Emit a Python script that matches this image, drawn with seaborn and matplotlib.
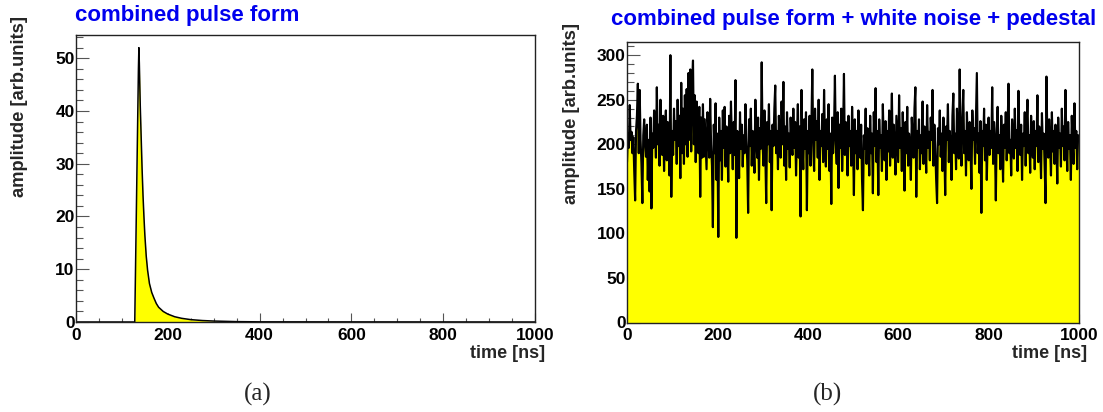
import numpy as np
import pandas as pd
import matplotlib
matplotlib.use("Agg")
import matplotlib.pyplot as plt
from matplotlib.ticker import MultipleLocator
import seaborn as sns

# ---------------- data ----------------
pulse_time = [0, 128, 129, 130, 131, 132, 133, 134, 135, 136, 137, 138, 139, 140,
              142, 144, 146, 148, 150, 153, 156, 160, 165, 170, 175, 180, 190,
              200, 215, 230, 250, 275, 300, 350, 400, 1000]
pulse_amp = [0, 0, 6, 12, 18, 24, 30, 36, 42, 48, 52, 49, 45, 41,
             35, 29, 24, 20, 16.5, 12.5, 9.8, 7.3, 5.6, 4.5, 3.5, 2.8, 2.0,
             1.5, 1.0, 0.7, 0.45, 0.28, 0.18, 0.07, 0.03, 0]

noise_step = 2  # ns between samples
noise_amp = [
    180, 212, 196, 244, 205, 214, 190, 208, 170, 137, 215, 232, 268, 190, 261, 205, 178, 134, 210, 228,
    200, 186, 222, 160, 205, 147, 230, 128, 212, 196, 238, 218, 185, 264, 200, 222, 176, 250, 210, 188,
    232, 170, 215, 238, 182, 225, 200, 165, 300, 141,
    215, 188, 240, 205, 226, 178, 250, 198, 232, 162, 269, 190, 240, 178, 255, 200, 262, 186, 280, 205,
    284, 192, 268, 294, 200, 255, 180, 248, 196, 190, 242, 141, 230, 185, 245, 186, 228, 200, 172, 236,
    214, 185, 251, 200, 176, 107, 222, 190, 246, 160,
    212, 96, 230, 182, 215, 160, 238, 196, 242, 175, 220, 200, 158, 232, 190, 248, 205, 172, 225, 188,
    272, 95, 215, 200, 162, 236, 195, 222, 175, 210, 190, 245, 205, 182, 123, 228, 198, 240, 176, 215,
    200, 168, 250, 208, 185, 230, 160, 218, 195, 292,
    200, 176, 238, 190, 134, 225, 200, 245, 180, 215, 126, 222, 198, 240, 266, 190, 215, 172, 232, 205,
    185, 248, 200, 270, 176, 220, 160, 236, 195, 212, 174, 230, 205, 188, 240, 196, 225, 165, 210, 245,
    185, 220, 119, 261, 200, 172, 228, 195, 236, 126,
    215, 190, 232, 176, 222, 284, 198, 170, 240, 205, 226, 185, 250, 160, 215, 198, 234, 180, 261, 205,
    175, 228, 195, 245, 170, 212, 133, 230, 190, 216, 277, 200, 178, 236, 151, 222, 196, 240, 170, 210,
    279, 188, 225, 200, 165, 232, 198, 215, 176, 242,
    205, 143, 228, 190, 215, 172, 238, 200, 185, 222, 160, 126, 210, 195, 240, 178, 218, 200, 165, 232,
    190, 212, 145, 236, 198, 263, 180, 215, 143, 228, 196, 210, 170, 245, 200, 182, 226, 160, 215, 192,
    238, 176, 210, 257, 185, 222, 198, 166, 232, 205,
    180, 255, 196, 218, 170, 236, 200, 148, 225, 190, 242, 176, 212, 198, 160, 230, 205, 185, 240, 264,
    141, 215, 196, 228, 172, 210, 190, 248, 178, 220, 200, 168, 244, 196, 214, 182, 230, 205, 261, 176,
    222, 195, 160, 134, 218, 200, 238, 186, 212, 170,
    230, 196, 143, 220, 205, 245, 180, 215, 198, 160, 232, 257, 190, 212, 172, 240, 200, 184, 284, 205,
    176, 228, 261, 190, 215, 165, 236, 200, 182, 225, 196, 150, 238, 205, 218, 178, 232, 280, 190, 212,
    168, 226, 123, 215, 198, 240, 182, 222, 160, 205,
    230, 188, 215, 196, 264, 178, 225, 200, 137, 218, 242, 190, 210, 172, 232, 200, 158, 222, 196, 236,
    182, 215, 268, 190, 205, 165, 228, 200, 184, 240, 196, 216, 170, 260, 205, 188, 222, 160, 212, 198,
    236, 176, 220, 250, 190, 210, 168, 232, 200, 185,
    226, 172, 215, 198, 255, 180, 220, 200, 162, 235, 195, 212, 176, 134, 276, 205, 185, 228, 200, 165,
    236, 192, 215, 178, 222, 200, 156, 230, 196, 212, 175, 240, 198, 220, 182, 261, 205, 170, 225, 195,
    210, 160, 232, 200, 178, 246, 196, 215, 172, 210,
]

x_major = [0, 200, 400, 600, 800, 1000]
titles = ["combined pulse form", "combined pulse form + white noise + pedestal"]
ylabel = "amplitude [arb.units]"
xlabel = "time [ns]"
captions = ["(a)", "(b)"]

# ---------------- style ----------------
sns.set_theme(style="ticks")
plt.rcParams["font.family"] = ["Liberation Sans", "DejaVu Sans"]
plt.rcParams["font.weight"] = "bold"

W, H = 1103, 412
fig = plt.figure(figsize=(W / 100, H / 100), dpi=100)
fig.patch.set_facecolor("white")

def px_axes(x0, x1, ytop, ybot):
    return fig.add_axes([x0 / W, 1 - ybot / H, (x1 - x0) / W, (ybot - ytop) / H])

axA = px_axes(76, 535, 35, 322)
axB = px_axes(627, 1079, 42, 322.5)

pulse_df = pd.DataFrame({"t": pulse_time, "a": pulse_amp})
noise_t = np.arange(len(noise_amp)) * noise_step
noise_t = np.append(noise_t, 1000)
noise_v = np.append(noise_amp, noise_amp[-1])
noise_df = pd.DataFrame({"t": noise_t, "a": noise_v})

axA.fill_between(pulse_df["t"], pulse_df["a"], color="#ffff00", lw=0)
sns.lineplot(data=pulse_df, x="t", y="a", ax=axA, color="black", lw=1.1, sort=False)

axB.fill_between(noise_df["t"], noise_df["a"], color="#ffff00", lw=0)
sns.lineplot(data=noise_df, x="t", y="a", ax=axB, color="black", lw=1.55, sort=False)

for ax, ymax, ymaj, ymin in [(axA, 54.4, 10, 2), (axB, 314.8, 50, 10)]:
    ax.set_xlim(0, 1000)
    ax.set_ylim(0, ymax)
    ax.set_xticks(x_major)
    ax.xaxis.set_minor_locator(MultipleLocator(50))
    ax.yaxis.set_major_locator(MultipleLocator(ymaj))
    ax.yaxis.set_minor_locator(MultipleLocator(ymin))
    ax.set_xlabel("")
    ax.set_ylabel("")
    ax.set_facecolor("white")
    for s in ax.spines.values():
        s.set_visible(True)
        s.set_linewidth(1.0)
        s.set_color("#222222")
    ax.tick_params(axis="x", which="major", direction="in", length=6.5, width=0.8,
                   color="#555555", pad=4, labelsize=12.5)
    ax.tick_params(axis="x", which="minor", direction="in", length=3.2, width=0.8, color="#555555")
    ax.tick_params(axis="y", which="major", direction="in", length=9.5, width=0.8,
                   color="#555555", pad=1, labelsize=12.5)
    ax.tick_params(axis="y", which="minor", direction="in", length=5, width=0.8, color="#555555")
    for lab in ax.get_xticklabels() + ax.get_yticklabels():
        lab.set_fontweight("bold")
        lab.set_color("black")
    ax.grid(False)

# titles
fig.text(75 / W, 1 - 16 / H, titles[0], color="#0000ee", fontsize=16, fontweight="bold",
         ha="left", va="center")
fig.text(1096 / W, 1 - 20 / H, titles[1], color="#0000ee", fontsize=16, fontweight="bold",
         ha="right", va="center")
# y labels
fig.text(20 / W, 1 - 16 / H, ylabel, rotation=90, fontsize=13.2, fontweight="bold",
         ha="center", va="top")
fig.text(571 / W, 1 - 23 / H, ylabel, rotation=90, fontsize=13.2, fontweight="bold",
         ha="center", va="top")
# x labels
fig.text(545 / W, 1 - 353 / H, xlabel, fontsize=13, fontweight="bold", ha="right", va="center")
fig.text(1087 / W, 1 - 353 / H, xlabel, fontsize=13, fontweight="bold", ha="right", va="center")
# captions
for cx, cap in zip([258, 828], captions):
    fig.text(cx / W, 1 - 394 / H, cap, fontsize=18, fontweight="normal", ha="center", va="center",
             family=["Liberation Serif", "DejaVu Serif"])

fig.savefig("out.png", dpi=100)
